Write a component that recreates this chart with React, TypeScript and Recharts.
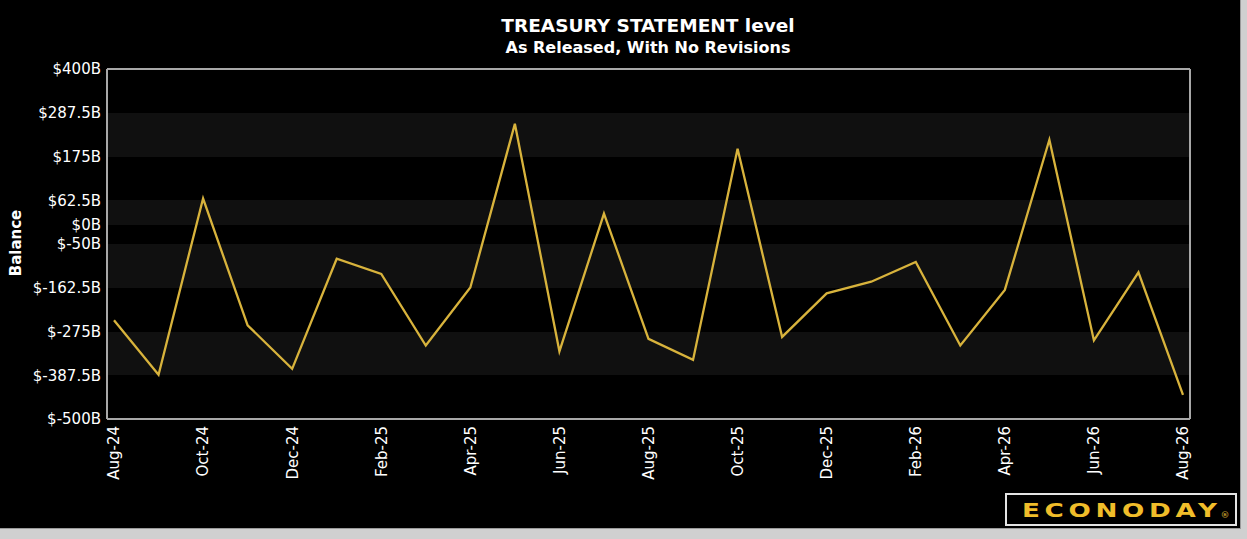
import React from 'react';
import { LineChart, Line, XAxis, YAxis, CartesianGrid } from 'recharts';

const months = [
  'Aug-24', 'Sep-24', 'Oct-24', 'Nov-24', 'Dec-24', 'Jan-25', 'Feb-25', 'Mar-25', 'Apr-25',
  'May-25', 'Jun-25', 'Jul-25', 'Aug-25', 'Sep-25', 'Oct-25', 'Nov-25', 'Dec-25', 'Jan-26',
  'Feb-26', 'Mar-26', 'Apr-26', 'May-26', 'Jun-26', 'Jul-26', 'Aug-26',
];
const balance = [
  -246, -386, 67, -259, -371, -88, -127, -311, -162,
  259, -326, 28, -294, -348, 195, -289, -177, -147,
  -96, -311, -168, 218, -298, -123, -438,
];
const yTicks = [400, 287.5, 175, 62.5, 0, -50, -162.5, -275, -387.5, -500];
const bandFills = ['#000000', '#101010'];

const data = months.map((m, i) => ({ month: m, value: balance[i] }));

const FONT = '"DejaVu Sans", Verdana, sans-serif';
const BORDER = '#a8a8a8';

const XTick = (props: any) => {
  const { x, y, payload } = props;
  return (
    <text
      x={x}
      y={y}
      dy="0.36em"
      transform={`rotate(-90, ${x}, ${y})`}
      textAnchor="end"
      fill="#ffffff"
      fontSize={15}
      fontFamily={FONT}
    >
      {payload.value}
    </text>
  );
};

const YTick = (props: any) => {
  const { x, y, payload } = props;
  return (
    <text
      x={x}
      y={y}
      dy="0.36em"
      textAnchor="end"
      fill="#ffffff"
      fontSize={15}
      fontFamily={FONT}
    >
      {`$${payload.value}B`}
    </text>
  );
};

export default function App() {
  return (
    <div
      style={{
        position: 'fixed',
        left: 0,
        top: 0,
        width: 1247,
        height: 539,
        background: '#d0d0d0',
        overflow: 'hidden',
      }}
    >
      <div
        style={{
          position: 'absolute',
          left: 0,
          top: 0,
          width: 1240,
          height: 528,
          background: '#000000',
          borderRight: '1px solid #9a9a9a',
          borderBottom: '1px solid #9a9a9a',
        }}
      />
      <div style={{ position: 'absolute', left: 0, top: 0 }}>
        <LineChart
          width={1247}
          height={539}
          data={data}
          margin={{ top: 68, right: 56, bottom: 60, left: 0 }}
        >
          <CartesianGrid
            xAxisId="bottom"
            yAxisId="left"
            vertical={false}
            horizontal={true}
            stroke="transparent"
            strokeWidth={0}
            horizontalFill={bandFills}
            fillOpacity={1}
          />
          <XAxis
            xAxisId="bottom"
            dataKey="month"
            height={60}
            interval={1}
            padding={{ left: 7, right: 7 }}
            tickLine={false}
            tickSize={0}
            tickMargin={7}
            axisLine={{ stroke: BORDER, strokeWidth: 2 }}
            tick={<XTick />}
          />
          <XAxis
            xAxisId="top"
            orientation="top"
            dataKey="month"
            height={1}
            padding={{ left: 7, right: 7 }}
            tick={false}
            tickLine={false}
            axisLine={{ stroke: BORDER, strokeWidth: 2 }}
          />
          <YAxis
            yAxisId="left"
            width={107}
            domain={[-500, 400]}
            ticks={yTicks}
            type="number"
            interval={0}
            tickLine={false}
            tickSize={0}
            tickMargin={6}
            axisLine={{ stroke: BORDER, strokeWidth: 2 }}
            tick={<YTick />}
            allowDataOverflow
          />
          <YAxis
            yAxisId="right"
            orientation="right"
            width={1}
            type="number"
            domain={[-500, 400]}
            tick={false}
            tickLine={false}
            axisLine={{ stroke: BORDER, strokeWidth: 2 }}
            allowDataOverflow
          />
          <Line
            xAxisId="top"
            yAxisId="right"
            type="linear"
            dataKey="value"
            stroke="none"
            strokeWidth={0}
            dot={false}
            activeDot={false}
            isAnimationActive={false}
          />
          <Line
            xAxisId="bottom"
            yAxisId="left"
            type="linear"
            dataKey="value"
            stroke="#d8b33c"
            strokeWidth={2.3}
            dot={false}
            activeDot={false}
            isAnimationActive={false}
          />
        </LineChart>
      </div>
      <svg
        width={1247}
        height={539}
        style={{ position: 'absolute', left: 0, top: 0, pointerEvents: 'none' }}
      >
        <text
          x={648}
          y={32}
          textAnchor="middle"
          fill="#ffffff"
          fontSize={18.5}
          fontWeight="bold"
          fontFamily={FONT}
        >
          TREASURY STATEMENT level
        </text>
        <text
          x={648}
          y={53}
          textAnchor="middle"
          fill="#ffffff"
          fontSize={16}
          fontWeight="bold"
          fontFamily={FONT}
        >
          As Released, With No Revisions
        </text>
        <text
          x={16}
          y={243}
          dy="0.36em"
          transform="rotate(-90, 16, 243)"
          textAnchor="middle"
          fill="#ffffff"
          fontSize={15}
          fontWeight="bold"
          fontFamily={FONT}
        >
          Balance
        </text>
        <rect x={1006} y={494} width={230} height={31} fill="#000000" stroke="#e4e4e4" strokeWidth={2} />
        <g transform="translate(1022, 516.5) scale(1.38, 1)">
          <text
            x={0}
            y={0}
            fill="#f0bd2a"
            fontSize={19}
            fontWeight="bold"
            letterSpacing={3.4}
            fontFamily={FONT}
          >
            ECONODAY
          </text>
        </g>
        <text x={1220.5} y={518} fill="#b8932a" fontSize={9} fontWeight="bold" fontFamily={FONT}>
          ®
        </text>
      </svg>
    </div>
  );
}
